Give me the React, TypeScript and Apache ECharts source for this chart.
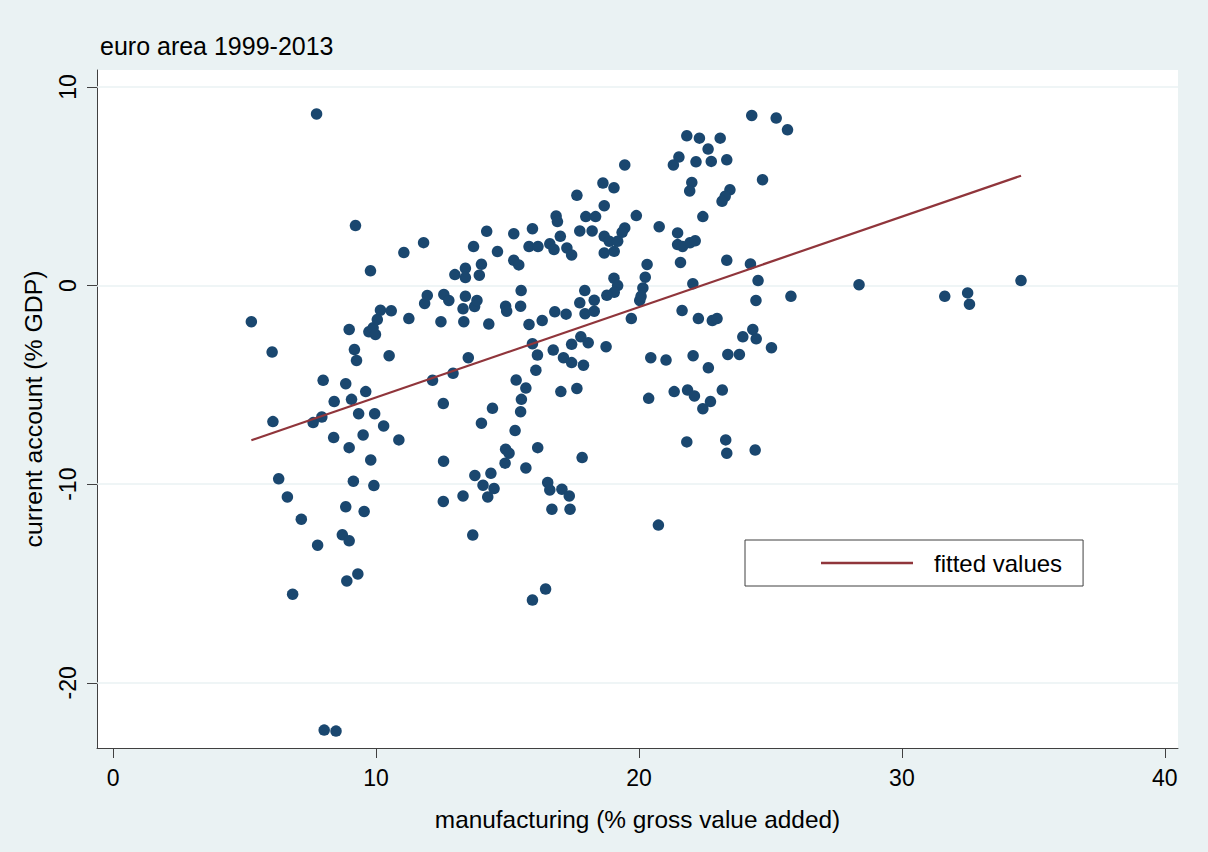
import React, { useEffect, useRef } from "react";
import * as echarts from "echarts";

// manufacturing (% gross value added), current account (% GDP)
const lowerShare: [number, number][] = [
  [5.26, -1.82], [6.05, -3.35], [6.08, -6.85], [6.3, -9.73], [6.63, -10.64], [6.83, -15.54], [7.16, -11.76], [7.61, -6.9], [7.74, 8.64], [7.78, -13.07],
  [7.94, -6.62], [7.99, -4.77], [8.03, -22.38], [8.48, -22.43], [8.41, -5.84], [8.39, -7.65], [8.72, -12.55], [8.85, -4.94], [8.85, -11.14], [8.89, -14.87],
  [8.98, -2.21], [8.98, -8.16], [8.98, -12.85], [9.07, -5.73], [9.14, -9.85], [9.18, -3.22], [9.22, 3.02], [9.26, -3.77], [9.31, -14.52], [9.34, -6.45],
  [9.51, -7.52], [9.55, -11.37], [9.61, -5.34], [9.73, -2.33], [9.79, 0.74], [9.8, -8.78], [9.89, -2.13], [9.92, -10.07], [9.95, -6.45], [9.98, -2.46],
  [10.05, -1.71], [10.17, -1.24], [10.29, -7.07], [10.5, -3.53], [10.58, -1.27], [10.87, -7.77], [11.06, 1.66], [11.25, -1.66], [11.81, 2.16], [11.85, -0.9],
  [11.95, -0.5], [12.15, -4.77], [12.47, -1.82], [12.56, -5.94], [12.57, -8.84], [12.56, -10.87], [12.58, -0.45], [12.77, -0.75], [12.93, -4.42], [13.0, 0.55],
  [13.31, -1.17], [13.31, -10.59], [13.34, -1.82], [13.4, 0.87], [13.4, 0.4], [13.4, -0.54], [13.51, -3.63], [13.68, -12.56], [13.71, 1.96], [13.75, -1.06],
  [13.76, -9.56], [13.84, -0.75], [13.93, 0.52], [14.01, 1.07], [14.01, -6.93], [14.07, -10.05], [14.21, 2.73], [14.25, -10.64], [14.29, -1.94], [14.37, -9.45],
  [14.43, -6.18], [14.49, -10.22], [14.62, 1.71],
];

const middleShare: [number, number][] = [
  [19.46, 6.07], [18.63, 5.16], [19.05, 4.92], [17.64, 4.54], [18.68, 4.02], [16.85, 3.5], [16.9, 3.22], [17.98, 3.47], [18.35, 3.47], [19.9, 3.52],
  [20.77, 2.96], [15.95, 2.86], [15.24, 2.61], [17.75, 2.75], [18.22, 2.75], [19.46, 2.9], [19.36, 2.68], [17.01, 2.48], [18.68, 2.48], [15.82, 1.96],
  [16.16, 1.96], [16.61, 2.1], [16.77, 1.81], [17.26, 1.89], [17.44, 1.54], [18.87, 2.23], [19.19, 2.23], [19.06, 1.72], [18.68, 1.64], [15.24, 1.27],
  [15.43, 1.04], [20.31, 1.06], [20.24, 0.42], [19.05, 0.37], [15.52, -0.25], [17.94, -0.25], [19.19, 0.0], [19.06, -0.34], [18.78, -0.49], [20.15, -0.12],
  [14.93, -1.04], [14.97, -1.29], [15.5, -1.04], [17.75, -0.87], [18.3, -0.74], [20.03, -0.75], [20.08, -0.54], [16.8, -1.32], [17.23, -1.44], [17.95, -1.42],
  [18.3, -1.29], [15.82, -1.96], [16.32, -1.76], [19.71, -1.66], [15.95, -2.93], [16.14, -3.5], [16.08, -4.26], [16.74, -3.25], [17.44, -2.96], [17.79, -2.58],
  [18.07, -2.88], [17.13, -3.63], [17.44, -3.88], [17.89, -4.01], [18.75, -3.08], [20.45, -3.63], [15.33, -4.76], [15.7, -5.16], [15.53, -5.73], [15.5, -6.35],
  [15.29, -7.3], [17.03, -5.34], [17.64, -5.18], [20.37, -5.68], [14.93, -8.24], [15.06, -8.44], [14.91, -8.94], [15.7, -9.18], [16.15, -8.16], [17.84, -8.66],
  [16.53, -9.91], [16.61, -10.29], [17.07, -10.25], [17.35, -10.59], [16.69, -11.26], [17.38, -11.26], [20.74, -12.06], [16.45, -15.28], [15.95, -15.83],
];

const upperShare: [number, number][] = [
  [24.29, 8.56], [21.82, 7.54], [22.3, 7.42], [23.09, 7.42], [22.63, 6.87], [22.75, 6.25], [23.34, 6.33], [22.17, 6.23], [21.52, 6.47], [21.31, 6.07],
  [24.7, 5.33], [22.01, 5.19], [21.93, 4.76], [23.46, 4.82], [23.28, 4.49], [23.16, 4.24], [22.43, 3.47], [21.47, 2.65], [21.47, 2.06], [21.66, 1.97],
  [21.94, 2.15], [22.14, 2.25], [21.58, 1.16], [23.34, 1.27], [24.24, 1.09], [22.05, 0.09], [24.53, 0.25], [24.45, -0.75], [21.64, -1.26], [22.26, -1.66],
  [22.79, -1.76], [22.97, -1.66], [21.03, -3.75], [22.06, -3.53], [22.64, -4.14], [23.38, -3.47], [23.82, -3.47], [23.95, -2.58], [24.33, -2.21], [24.46, -2.68],
  [21.34, -5.34], [21.85, -5.26], [22.11, -5.56], [22.72, -5.84], [22.43, -6.2], [23.17, -5.26], [21.82, -7.87], [23.3, -7.77], [23.34, -8.44], [24.42, -8.28],
  [25.22, 8.43], [25.65, 7.84], [25.78, -0.54], [28.37, 0.04], [31.63, -0.54], [32.5, -0.37], [32.57, -0.94], [34.53, 0.25], [25.04, -3.13],
];

const fittedX = [5.26, 34.53];
const fittedY = [-7.79, 5.53];

const xTickValues = [0, 10, 20, 30, 40];
const yTickValues = [-20, -10, 0, 10];

const FONT = "'Liberation Sans', Arial, sans-serif";
const BG = "#EAF2F3";
const AXIS = "#404040";
const NAVY = "#1A476F";
const MAROON = "#90353B";

export default function App() {
  const ref = useRef<HTMLDivElement>(null);
  useEffect(() => {
    document.body.style.margin = "0";
    const chart = echarts.init(ref.current!, null, { renderer: "svg" });
    chart.setOption({
      animation: false,
      backgroundColor: BG,
      title: {
        text: "euro area 1999-2013",
        left: 95,
        top: 28,
        textStyle: { fontFamily: FONT, fontSize: 25, fontWeight: "normal", color: "#000" },
      },
      grid: { left: 97, right: 30, top: 70, bottom: 104, show: true, backgroundColor: "#ffffff", borderWidth: 0 },
      legend: {
        left: 745,
        top: 540,
        data: [{ name: "fitted values", icon: "rect" }],
        selectedMode: false,
        itemWidth: 92,
        itemHeight: 2.5,
        padding: [11, 21, 11, 76],
        borderColor: AXIS,
        borderWidth: 1,
        backgroundColor: "#ffffff",
        textStyle: { fontFamily: FONT, fontSize: 24, color: "#000", padding: [0, 0, 0, 16] },
      },
      xAxis: {
        type: "value",
        min: -0.61,
        max: 40.5,
        name: "manufacturing (% gross value added)",
        nameLocation: "middle",
        nameGap: 59,
        nameTextStyle: { fontFamily: FONT, fontSize: 24.4, color: "#000" },
        axisLine: { show: true, onZero: false, lineStyle: { color: AXIS, width: 1 } },
        axisTick: { show: true, length: 10, customValues: xTickValues, lineStyle: { color: AXIS, width: 1 } },
        axisLabel: { customValues: xTickValues, margin: 18, fontFamily: FONT, fontSize: 23, color: "#000" },
        splitLine: { show: false },
      },
      yAxis: {
        type: "value",
        min: -23.28,
        max: 10.85,
        name: "current account (% GDP)",
        nameLocation: "middle",
        nameGap: 51,
        nameTextStyle: { fontFamily: FONT, fontSize: 24.8, color: "#000" },
        axisLine: { show: true, onZero: false, lineStyle: { color: AXIS, width: 1 } },
        axisTick: { show: true, length: 10, customValues: yTickValues, lineStyle: { color: AXIS, width: 1 } },
        axisLabel: { customValues: yTickValues, rotate: 90, margin: 18, fontFamily: FONT, fontSize: 23, color: "#000" },
        splitLine: { show: false },
      },
      series: [
        {
          type: "line",
          name: "gridlines",
          data: [],
          silent: true,
          z: 1,
          markLine: {
            silent: true,
            z: 1,
            symbol: "none",
            label: { show: false },
            lineStyle: { color: BG, width: 1.5, type: "solid" },
            data: yTickValues.map((v) => ({ yAxis: v })),
          },
        },
        {
          type: "scatter",
          name: "current account",
          data: [...lowerShare, ...middleShare, ...upperShare],
          symbolSize: 11.5,
          itemStyle: { color: NAVY, opacity: 1 },
          z: 3,
        },
        {
          type: "line",
          name: "fitted values",
          data: fittedX.map((x, i) => [x, fittedY[i]]),
          symbol: "none",
          showSymbol: false,
          lineStyle: { color: MAROON, width: 2.2 },
          itemStyle: { color: MAROON },
          z: 4,
        },
      ],
    });
    return () => chart.dispose();
  }, []);
  return <div ref={ref} style={{ width: 1208, height: 852 }} />;
}
